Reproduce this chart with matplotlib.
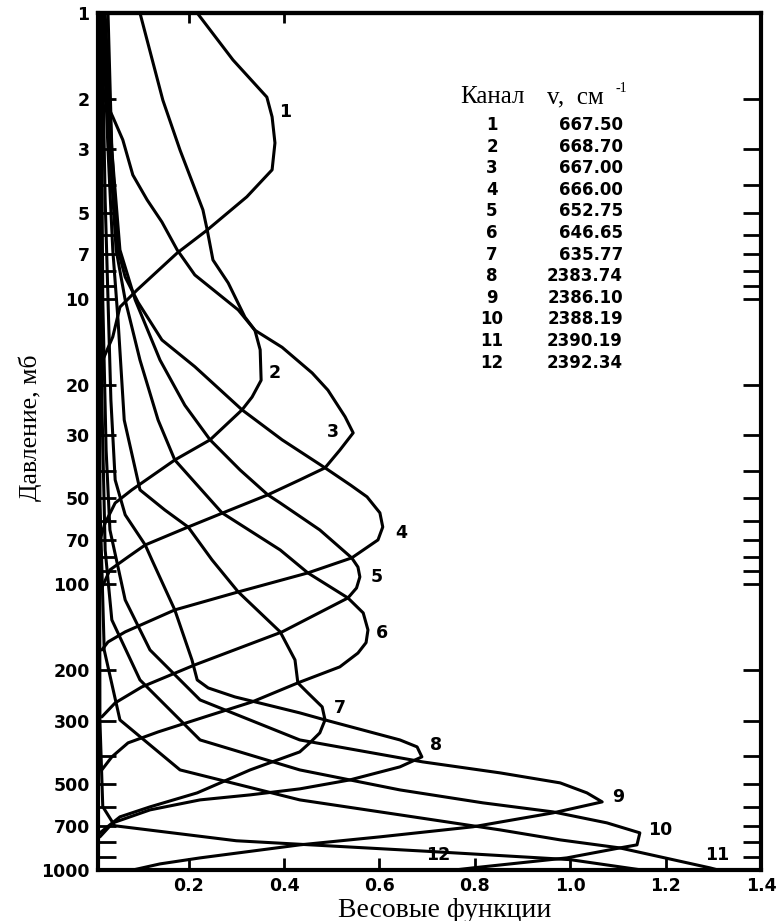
import matplotlib
matplotlib.use('Agg')
import matplotlib.pyplot as plt
from matplotlib.ticker import NullFormatter

# channel table
channels = ['1', '2', '3', '4', '5', '6', '7', '8', '9', '10', '11', '12']
wavenumbers = ['667.50', '668.70', '667.00', '666.00', '652.75', '646.65',
               '635.77', '2383.74', '2386.10', '2388.19', '2390.19', '2392.34']

# weighting functions: pressure (mb) and value for each channel
p1 = [1.0, 1.46, 1.97, 2.31, 2.85, 3.54, 4.40, 5.75, 6.92, 9.32, 10.7, 13.6, 16.4, 22.6, 60]
w1 = [0.218, 0.293, 0.364, 0.375, 0.381, 0.375, 0.322, 0.239, 0.176, 0.092, 0.056, 0.041, 0.020, 0.014, 0.012]

p2 = [1.0, 2.02, 3.02, 4.89, 5.75, 7.32, 8.81, 11.6, 12.9, 15.1, 19.3, 22.1, 24.5, 31.2, 36.7, 46.7, 51.9, 61.0, 69.9]
w2 = [0.098, 0.146, 0.182, 0.230, 0.239, 0.251, 0.283, 0.318, 0.339, 0.350, 0.352, 0.333, 0.312, 0.245, 0.171, 0.081, 0.046, 0.025, 0.014]

p3 = [1.0, 1.58, 2.02, 2.31, 2.78, 3.69, 4.51, 5.39, 6.75, 8.26, 10.95, 12.9, 14.8, 18.2, 20.9, 25.9,
      29.5, 33.9, 39.1, 43.1, 48.6, 56.2, 63.0, 72.8, 80.2, 89.0, 104.6]
w3 = [0.012, 0.014, 0.025, 0.041, 0.062, 0.083, 0.113, 0.144, 0.176, 0.213, 0.304, 0.339, 0.396, 0.459, 0.492, 0.528,
      0.545, 0.517, 0.486, 0.433, 0.366, 0.272, 0.199, 0.109, 0.073, 0.035, 0.016]

p4 = [1.0, 3.02, 6.75, 8.4, 10.3, 13.95, 17.3, 24.5, 31.2, 39.1, 45.0, 49.4, 56.2, 63.0, 69.9, 80.8, 91.2,
      106.3, 122.9, 146.7, 159.1, 169.7]
w4 = [0.031, 0.039, 0.052, 0.067, 0.094, 0.144, 0.213, 0.312, 0.396, 0.486, 0.540, 0.574, 0.601, 0.607, 0.597, 0.542, 0.450,
      0.304, 0.171, 0.067, 0.031, 0.018]

p5 = [1.0, 3.02, 6.75, 10.1, 16.4, 23.6, 31.2, 39.8, 48.6, 51.9, 64.5, 80.8, 87.0, 94.2, 103.0, 111.6, 146.7, 191.4,
      228.6, 260.0, 291.1]
w5 = [0.025, 0.039, 0.056, 0.088, 0.140, 0.192, 0.245, 0.308, 0.366, 0.392, 0.475, 0.542, 0.555, 0.559, 0.552, 0.534,
      0.396, 0.213, 0.102, 0.046, 0.018]

p6 = [1.0, 3.02, 6.75, 10.1, 16.4, 26.6, 36.7, 56.2, 75.8, 91.2, 111.6, 125.9, 144.4, 160.0, 174.0, 194.5, 221.3,
      258.0, 291.1, 328.6, 358.9, 401.8, 446.3]
w6 = [0.023, 0.035, 0.048, 0.067, 0.098, 0.136, 0.171, 0.270, 0.392, 0.450, 0.534, 0.566, 0.576, 0.572, 0.555, 0.517, 0.429,
      0.333, 0.234, 0.136, 0.073, 0.039, 0.018]

p7 = [1.0, 3.02, 6.75, 11.9, 26.6, 46.7, 54.9, 63.0, 82.1, 106.3, 146.7, 183.9, 221.3, 239.9, 268.5, 298.3,
      331.2, 358.9, 386.0, 446.3, 537.0, 601.2, 651.6, 741.3]
w7 = [0.020, 0.031, 0.041, 0.052, 0.065, 0.098, 0.150, 0.199, 0.249, 0.304, 0.392, 0.423, 0.429, 0.450, 0.480, 0.486,
      0.475, 0.454, 0.433, 0.329, 0.218, 0.119, 0.056, 0.014]

p8 = [1.0, 4.51, 10.1, 22.6, 43.1, 57.1, 72.8, 82.1, 122.9, 183.9, 216.1, 230.5, 247.8, 281.8, 298.3, 350.5,
      370.7, 401.8, 435.5, 483.8, 520.0, 545.8, 568.3, 616.0, 684.0, 765.6]
w8 = [0.018, 0.025, 0.031, 0.037, 0.046, 0.067, 0.109, 0.123, 0.171, 0.207, 0.218, 0.241, 0.297, 0.433, 0.486, 0.643,
      0.679, 0.689, 0.643, 0.538, 0.433, 0.329, 0.224, 0.119, 0.041, 0.014]

p9 = [1.0, 10.1, 33.9, 64.5, 113.4, 169.7, 253.9, 350.5, 418.4, 457.1, 495.5, 537.0, 577.5, 631.0, 706.0,
      765.6, 816.6, 907.0, 952.0, 1000]
w9 = [0.016, 0.020, 0.027, 0.035, 0.067, 0.119, 0.224, 0.433, 0.691, 0.853, 0.979, 1.035, 1.067, 0.964, 0.796,
      0.601, 0.433, 0.224, 0.140, 0.083]

p10 = [1.0, 22.6, 75.8, 133.2, 216.1, 350.5, 446.3, 524.4, 582.0, 626.0, 684.0, 741.3, 816.6, 836.9, 907.0, 983.0, 1000]
w10 = [0.014, 0.018, 0.025, 0.039, 0.098, 0.224, 0.433, 0.643, 0.817, 0.964, 1.077, 1.146, 1.140, 1.104, 0.993, 0.796, 0.758]

p11 = [1.0, 50.6, 169.7, 298.3, 446.3, 568.3, 641.2, 723.8, 784.5, 836.9, 983.0, 1000]
w11 = [0.012, 0.014, 0.023, 0.056, 0.182, 0.433, 0.643, 0.853, 0.979, 1.104, 1.293, 1.310]

p12 = [1.0, 300.0, 600.0, 700.0, 790.0, 860.0, 920.0, 1000]
w12 = [0.012, 0.014, 0.020, 0.045, 0.300, 0.700, 1.000, 1.150]

profiles = [(w1, p1), (w2, p2), (w3, p3), (w4, p4), (w5, p5), (w6, p6),
            (w7, p7), (w8, p8), (w9, p9), (w10, p10), (w11, p11), (w12, p12)]

# where the channel numbers sit next to the curves
label_w = [0.402, 0.381, 0.503, 0.645, 0.595, 0.605, 0.517, 0.719, 1.100, 1.188, 1.308, 0.723]
label_p = [2.22, 18.2, 29.2, 66.1, 94.2, 147.9, 270.8, 364.8, 554.6, 723.8, 885.0, 885.0]

major_p = [1, 2, 3, 5, 7, 10, 20, 30, 50, 70, 100, 200, 300, 500, 700, 1000]
minor_p = [4, 6, 8, 9, 40, 60, 80, 90, 400, 600, 800, 900]
xticks = [0.2, 0.4, 0.6, 0.8, 1.0, 1.2, 1.4]

W, H = 777, 921
fig = plt.figure(figsize=(W / 100, H / 100), dpi=100)
ax = fig.add_axes([98 / W, 1 - 870 / H, 663 / W, 857 / H])

for w, p in profiles:
    ax.plot(w, p, color='black', lw=2.2, solid_joinstyle='round', solid_capstyle='round')

bold = dict(family='DejaVu Sans', weight='bold', size=12.5)
for k in range(12):
    ax.text(label_w[k], label_p[k], channels[k], ha='center', va='center', **bold)

ax.set_yscale('log')
ax.set_ylim(1000, 1)
ax.set_xlim(0.01, 1.4)

ax.set_yticks(major_p, labels=[str(v) for v in major_p])
ax.set_yticks(minor_p, minor=True)
ax.yaxis.set_minor_formatter(NullFormatter())
ax.set_xticks(xticks, labels=['%.1f' % v for v in xticks])

ax.tick_params(axis='y', which='both', direction='in', left=True, right=True,
               length=13, width=2, pad=6)
ax.tick_params(axis='x', which='both', direction='in', top=False, bottom=True,
               length=9, width=2, pad=5)
for lab in ax.get_xticklabels() + ax.get_yticklabels():
    lab.set_fontproperties(matplotlib.font_manager.FontProperties(**bold))

for s in ax.spines.values():
    s.set_linewidth(3)

top = ax.secondary_xaxis('top')
top.set_xticks([0.2, 0.4], labels=[])
top.tick_params(direction='in', length=7, width=2)
top.spines['top'].set_linewidth(3)

serif = 'Liberation Serif'
fig.text(30 / W, 1 - 428 / H, 'Давление, мб', rotation=90, ha='center', va='center',
         family=serif, size=18.5)
fig.text(445 / W, 1 - 910 / H, 'Весовые функции', ha='center', va='center',
         family=serif, size=20)

# channel / wavenumber table
fig.text(492 / W, 1 - 97 / H, 'Канал', ha='center', va='center', family=serif, size=18)
fig.text(547 / W, 1 - 97 / H, 'v,  см', ha='left', va='center', family=serif, size=18)
fig.text(615 / W, 1 - 88 / H, '-1', ha='left', va='center', family=serif, size=10)
for k in range(12):
    y = 1 - (125 + 21.6 * k) / H
    fig.text(492 / W, y, channels[k], ha='center', va='center',
             family='DejaVu Sans', weight='bold', size=12)
    fig.text(623 / W, y, wavenumbers[k], ha='right', va='center',
             family='DejaVu Sans', weight='bold', size=12)

fig.savefig('out.png', dpi=100)
